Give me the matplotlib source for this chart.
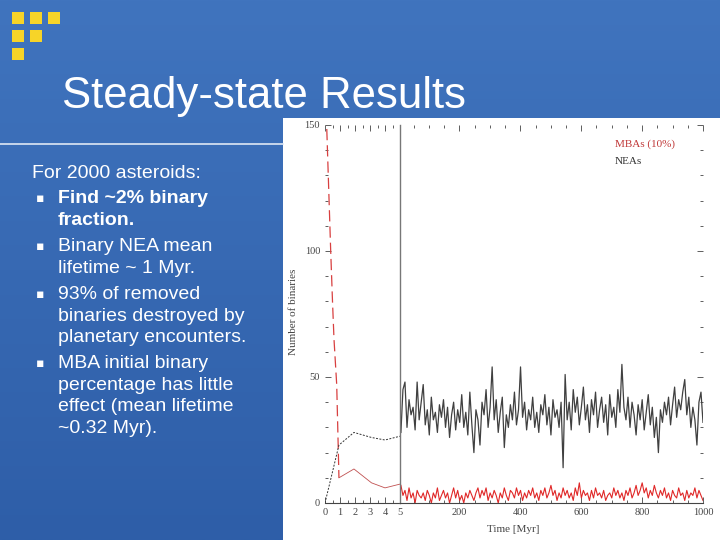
import numpy as np
import matplotlib
matplotlib.use("Agg")
import matplotlib.pyplot as plt
from matplotlib.patches import Rectangle
from matplotlib.ticker import MultipleLocator

# early phase (0-5 Myr)
mba_steep_t = [0.0, 0.11, 0.38, 0.5, 0.6, 0.78, 0.85, 0.93]
mba_steep_n = [200, 150, 100, 80, 65, 47, 30, 10]
mba_early_t = [0.93, 1.93, 3.1, 4.0, 5.0]
mba_early_n = [10, 13.5, 8, 6, 7.5]
nea_early_t = [0.0, 0.93, 1.93, 3.1, 4.0, 5.0]
nea_early_n = [0, 23, 28, 26, 25, 26.5]

# steady state (5-1000 Myr), sampled about every 6.7 Myr
t_start, t_end = 8, 1000
nea_late = [28, 45, 48, 30, 41, 35, 38, 29, 48, 33,
            40, 47, 31, 37, 27, 42, 33, 36, 28, 39,
            34, 41, 30, 38, 26, 35, 40, 29, 37, 32,
            43, 30, 36, 27, 44, 31, 20, 37, 33, 23,
            40, 35, 45, 30, 38, 54, 33, 41, 28, 36,
            42, 22, 35, 30, 39, 33, 44, 31, 37, 54,
            34, 40, 29, 37, 33, 42, 30, 36, 28, 39,
            35, 43, 31, 38, 27, 41, 34, 37, 30, 40,
            14, 51, 33, 40, 29, 45, 36, 42, 31, 38,
            46, 33, 39, 28, 41, 35, 44, 30, 37, 42,
            32, 39, 27, 43, 34, 38, 30, 45, 36, 55,
            38, 33, 42, 30, 40, 35, 27, 39, 33, 41,
            29, 36, 43, 31, 38, 26, 34, 20, 37, 32,
            40, 35, 42, 31, 39, 46, 34, 41, 37, 44,
            49, 35, 42, 30, 38, 33, 23, 40, 44, 32]
mba_late = [7, 3, 5, 1, 6, 2, 4, 0, 5, 3,
            2, 4, 1, 5, 3, 0, 4, 2, 6, 1,
            3, 5, 2, 4, 0, 3, 6, 2, 5, 1,
            3, 0, 4, 2, 5, 3, 1, 4, 6, 2,
            5, 3, 6, 1, 4, 2, 5, 3, 0, 4,
            2, 6, 3, 1, 5, 4, 2, 6, 3, 5,
            1, 4, 2, 5, 3, 6, 2, 4, 1, 5,
            3, 6, 2, 4, 7, 3, 5, 1, 4, 2,
            6, 3, 5, 2, 4, 1, 6, 3, 8, 2,
            5, 3, 4, 1, 5, 2, 6, 3, 4, 2,
            5, 1, 3, 4, 2, 6, 3, 5, 2, 4,
            1, 5, 3, 6, 2, 4, 7, 3, 5, 8,
            4, 6, 2, 5, 3, 7, 4, 2, 5, 3,
            6, 2, 4, 1, 5, 3, 2, 6, 3, 4,
            1, 5, 2, 4, 3, 6, 2, 5, 3, 1]
t_late = np.linspace(t_start, t_end, len(nea_late))

title = "Steady-state Results"
bullets = [
    ("For 2000 asteroids:", False, False),
    ("Find ~2% binary\nfraction.", True, True),
    ("Binary NEA mean\nlifetime ~ 1 Myr.", True, False),
    ("93% of removed\nbinaries destroyed by\nplanetary encounters.", True, False),
    ("MBA initial binary\npercentage has little\neffect (mean lifetime\n~0.32 Myr).", True, False),
]

W, H = 720, 540
fig = plt.figure(figsize=(7.2, 5.4), dpi=100)

# slide background
bg = fig.add_axes([0, 0, 1, 1])
grad = np.linspace(0, 1, 256).reshape(-1, 1)
top = np.array([0x40, 0x74, 0xbe]) / 255
bot = np.array([0x2e, 0x5e, 0xa8]) / 255
img = top + (bot - top) * grad[:, :, None]
bg.imshow(img, aspect="auto", extent=[0, W, H, 0])
bg.set_xlim(0, W)
bg.set_ylim(H, 0)
bg.axis("off")

# yellow squares
for (x, y) in [(12, 12), (30, 12), (48, 12), (12, 30), (30, 30), (12, 48)]:
    bg.add_patch(Rectangle((x, y), 11.5, 11.5, color="#f7d428", lw=0))

bg.text(62, 108, title, color="white", fontsize=31.5, family="Liberation Sans", va="baseline")
bg.plot([0, 283], [144, 144], color="#dfe8f5", lw=1.2)

# bullet text
ys = [178, 203, 251, 299, 368]
line_h = 21.6
for (txt, bul, bold), y in zip(bullets, ys):
    x = 58 if bul else 32
    if bul:
        bg.text(36, y - 1, "\u25aa", color="white", fontsize=9, family="DejaVu Sans", va="baseline")
    for k, ln in enumerate(txt.split("\n")):
        bg.text(x, y + k * line_h, ln, color="white", fontsize=14,
                family="Liberation Sans", weight="bold" if bold else "normal", va="baseline")

# white chart area
bg.add_patch(Rectangle((283, 118), W - 283, H - 118, color="white", lw=0))

px = lambda v: v / W
py = lambda v: 1 - v / H
bottom, height = py(503), py(125) - py(503)
ax1 = fig.add_axes([px(325), bottom, px(400) - px(325), height])
ax2 = fig.add_axes([px(400), bottom, px(703) - px(400), height], sharey=ax1)

gray = "#444444"
ax1.plot(mba_steep_t, mba_steep_n, color="#d84040", lw=0.9, dashes=(9, 4))
ax1.plot(mba_early_t, mba_early_n, color="#c05050", lw=0.6)
ax1.plot(nea_early_t, nea_early_n, color="#333333", lw=0.7, dashes=(2, 1.5))
ax1.set_xlim(0, 5)
ax1.set_ylim(0, 150)

ax2.plot(t_late, nea_late, color="#404040", lw=0.9)
ax2.plot(t_late, mba_late, color="#e02828", lw=0.8)
ax2.set_xlim(5, 1000)

for ax in (ax1, ax2):
    ax.patch.set_alpha(0)
    for s in ("top", "right", "left"):
        ax.spines[s].set_visible(False)
    ax.spines["bottom"].set_color(gray)
    ax.spines["bottom"].set_linewidth(0.8)
    ax.tick_params(which="both", direction="in", colors=gray, labelsize=7.5,
                   top=True, labelcolor=gray, width=0.6)
    ax.tick_params(which="major", length=4)
    ax.tick_params(which="minor", length=2)
    ax.yaxis.set_major_locator(MultipleLocator(50))
    ax.yaxis.set_minor_locator(MultipleLocator(10))

ax1.xaxis.set_major_locator(MultipleLocator(1))
ax1.xaxis.set_minor_locator(MultipleLocator(0.5))
ax1.tick_params(axis="y", which="both", left=True, right=False)
ax2.xaxis.set_major_locator(MultipleLocator(200))
ax2.xaxis.set_minor_locator(MultipleLocator(50))
ax2.set_xticks([200, 400, 600, 800, 1000])
ax2.tick_params(axis="y", which="both", left=False, right=True, labelleft=False)
ax2.spines["left"].set_visible(True)
ax2.spines["left"].set_color("#777777")
ax2.spines["left"].set_linewidth(1.0)
for lab in ax2.get_xticklabels() + ax1.get_xticklabels() + ax1.get_yticklabels():
    lab.set_family("Liberation Serif")

fig.text(px(513), py(529), "Time [Myr]", ha="center", va="center", fontsize=8,
         color=gray, family="Liberation Serif")
fig.text(px(293), py(312), "Number of binaries", ha="center", va="center", fontsize=8,
         color=gray, family="Liberation Serif", rotation=90)
fig.text(px(615), py(144), "MBAs (10%)", ha="left", va="center", fontsize=8,
         color="#c03838", family="Liberation Serif")
fig.text(px(615), py(162), "NEAs", ha="left", va="center", fontsize=8,
         color="#333333", family="Liberation Serif")

fig.savefig("out.png", dpi=100)
